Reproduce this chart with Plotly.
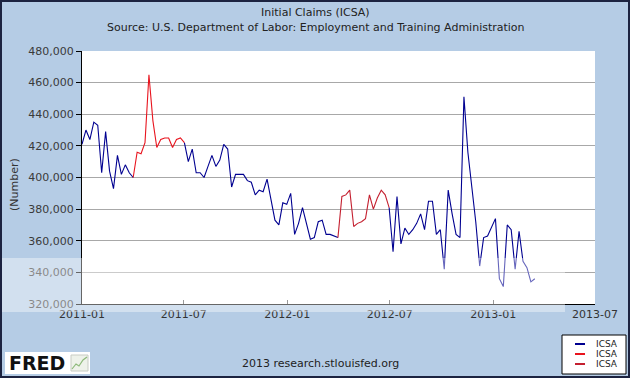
import pandas as pd
import plotly.graph_objects as go

# ---------------- data (weekly initial claims, week ending Saturdays) ----------------
first_week = "2011-01-01"
claims = [
    421000, 430000, 424000, 435000, 433000, 403000, 429000, 404000, 393000, 414000,
    402000, 408000, 403000, 400000, 416000, 415000, 422000, 465000, 436000, 419000,
    424000, 425000, 425000, 419000, 424000, 425000, 422000, 410000, 418000, 403000,
    403000, 400000, 407000, 414000, 407000, 411000, 421000, 418000, 394000, 402000,
    402000, 402000, 398000, 397000, 389000, 392000, 391000, 399000, 386000, 373000,
    370000, 384000, 383000, 390000, 364000, 371000, 381000, 371000, 361000, 362000,
    372000, 373000, 364000, 364000, 363000, 362000, 388000, 389000, 392000, 369000,
    371000, 372000, 374000, 389000, 380000, 387000, 392000, 389000, 381000, 353000,
    388000, 358000, 368000, 364000, 367000, 371000, 377000, 367000, 385000, 385000,
    364000, 367000, 342000, 392000, 377000, 364000, 362000, 451000, 416000, 395000,
    372000, 344000, 362000, 363000, 369000, 374000, 336000, 331000, 370000, 367000,
    342000, 366000, 347000, 343000, 334000, 336000,
]
red_periods = [("2011-04-02", "2011-07-02"), ("2012-03-31", "2012-06-30")]
series_names = ["ICSA", "ICSA", "ICSA"]
series_colors = ["#000090", "#E8141E", "#C42030"]
x_ticks = ["2011-01-01", "2011-07-01", "2012-01-01", "2012-07-01", "2013-01-01", "2013-07-01"]
x_tick_text = ["2011-01", "2011-07", "2012-01", "2012-07", "2013-01", "2013-07"]
y_ticks = [320000, 340000, 360000, 380000, 400000, 420000, 440000, 460000, 480000]

weeks = pd.date_range(first_week, periods=len(claims), freq="7D")
df = pd.DataFrame({"week": weeks, "claims": claims})

inside_red = pd.Series(False, index=df.index)
for a, b in red_periods:
    inside_red |= (df["week"] > pd.Timestamp(a)) & (df["week"] < pd.Timestamp(b))
blue_y = df["claims"].where(~inside_red)

fig = go.Figure()
fig.add_trace(go.Scatter(x=df["week"], y=blue_y, mode="lines", name=series_names[0],
                         line=dict(color=series_colors[0], width=1.1), connectgaps=False,
                         showlegend=False))
for i, (a, b) in enumerate(red_periods):
    sub = df[(df["week"] >= a) & (df["week"] <= b)]
    fig.add_trace(go.Scatter(x=sub["week"], y=sub["claims"], mode="lines", name=series_names[i + 1],
                             line=dict(color=series_colors[i + 1], width=1.1), showlegend=False))

font_fam = "DejaVu Sans"
fig.update_layout(
    width=630, height=378,
    margin=dict(l=82, r=35, t=51, b=74, autoexpand=False),
    paper_bgcolor="#B5CCE5", plot_bgcolor="white",
    font=dict(family=font_fam, size=11, color="#333333"),
    showlegend=False,
    xaxis=dict(type="date", range=["2011-01-01", "2013-07-01"], tickvals=x_ticks,
               ticktext=x_tick_text, ticks="inside", ticklen=4, tickcolor="#555555",
               showgrid=False, showline=True, linecolor="black", linewidth=1,
               zeroline=False, tickfont=dict(size=11, color="#333333"), automargin=False),
    yaxis=dict(range=[320000, 480000], tickvals=y_ticks,
               ticktext=[f"{v:,}" for v in y_ticks], ticks="outside", ticklen=5,
               tickcolor="black", showgrid=True, gridcolor="#A8A8A8", gridwidth=1,
               showline=True, linecolor="black", linewidth=1, zeroline=False,
               tickfont=dict(size=11, color="#3a3a3a"), automargin=False),
)


def px_x(X):
    return (X - 82) / 513


def px_y(Y):
    return (304 - Y) / 253


fig.add_annotation(text="Initial Claims (ICSA)", xref="paper", yref="paper",
                   x=px_x(315), y=px_y(12), showarrow=False,
                   font=dict(size=11, color="#222222"), xanchor="center", yanchor="middle")
fig.add_annotation(text="Source: U.S. Department of Labor: Employment and Training Administration",
                   xref="paper", yref="paper", x=px_x(316), y=px_y(27),
                   showarrow=False, font=dict(size=11, color="#222222"),
                   xanchor="center", yanchor="middle")
fig.add_annotation(text="(Number)", xref="paper", yref="paper", x=px_x(14),
                   y=px_y(185), textangle=-90, showarrow=False,
                   font=dict(size=11, color="#333333"), xanchor="center", yanchor="middle")
fig.add_annotation(text="2013 research.stlouisfed.org", xref="paper", yref="paper",
                   x=px_x(320), y=px_y(363), showarrow=False,
                   font=dict(size=11, color="#222222"), xanchor="center", yanchor="middle")

# FRED logo: white box, bold word mark and a small chart icon
fig.add_shape(type="rect", xref="paper", yref="paper", x0=px_x(5), x1=px_x(90),
              y0=px_y(374), y1=px_y(352), fillcolor="white", line=dict(width=0))
fig.add_shape(type="rect", xref="paper", yref="paper", x0=px_x(71), x1=px_x(88),
              y0=px_y(371), y1=px_y(355), fillcolor="#EEF2EA", line=dict(color="#C8CCC4", width=1))
fig.add_shape(type="path", xref="paper", yref="paper",
              path=(f"M {px_x(72)},{px_y(369)} L {px_x(76)},{px_y(364)} L {px_x(79)},{px_y(366)} "
                    f"L {px_x(83)},{px_y(360)} L {px_x(87)},{px_y(357)}"),
              line=dict(color="#8DBA7A", width=1.2))
fig.add_annotation(text="<b>FRED</b>", xref="paper", yref="paper",
                   x=px_x(7), y=px_y(363), showarrow=False,
                   font=dict(size=19, color="#111111", family="DejaVu Sans"),
                   xanchor="left", yanchor="middle")

# legend box (drawn manually to match the compact FRED legend)
fig.add_shape(type="rect", xref="paper", yref="paper", x0=px_x(562), x1=px_x(626),
              y0=px_y(374), y1=px_y(335), fillcolor="white", line=dict(color="black", width=1))
legend_rows = [344, 354, 364]
for name, color, Y in zip(series_names, series_colors, legend_rows):
    fig.add_shape(type="line", xref="paper", yref="paper", x0=px_x(575), x1=px_x(585),
                  y0=px_y(Y), y1=px_y(Y), line=dict(color=color, width=2))
    fig.add_annotation(text=name, xref="paper", yref="paper", x=px_x(594), y=px_y(Y),
                       showarrow=False, font=dict(size=9, color="#222222"),
                       xanchor="left", yanchor="middle")

# photobucket watermark band and outer frame
fig.add_shape(type="rect", xref="paper", yref="paper", x0=-0.17, x1=px_x(565),
              y0=px_y(312), y1=px_y(258), fillcolor="white", opacity=0.4,
              line=dict(width=0), layer="above")
fig.add_shape(type="rect", xref="paper", yref="paper", x0=px_x(1), x1=px_x(629),
              y0=px_y(377), y1=px_y(1), line=dict(color="#1C2340", width=2),
              fillcolor="rgba(0,0,0,0)", layer="above")

fig.write_html("out.html", config={"displayModeBar": False},
               post_script="document.body.style.margin='0';")
